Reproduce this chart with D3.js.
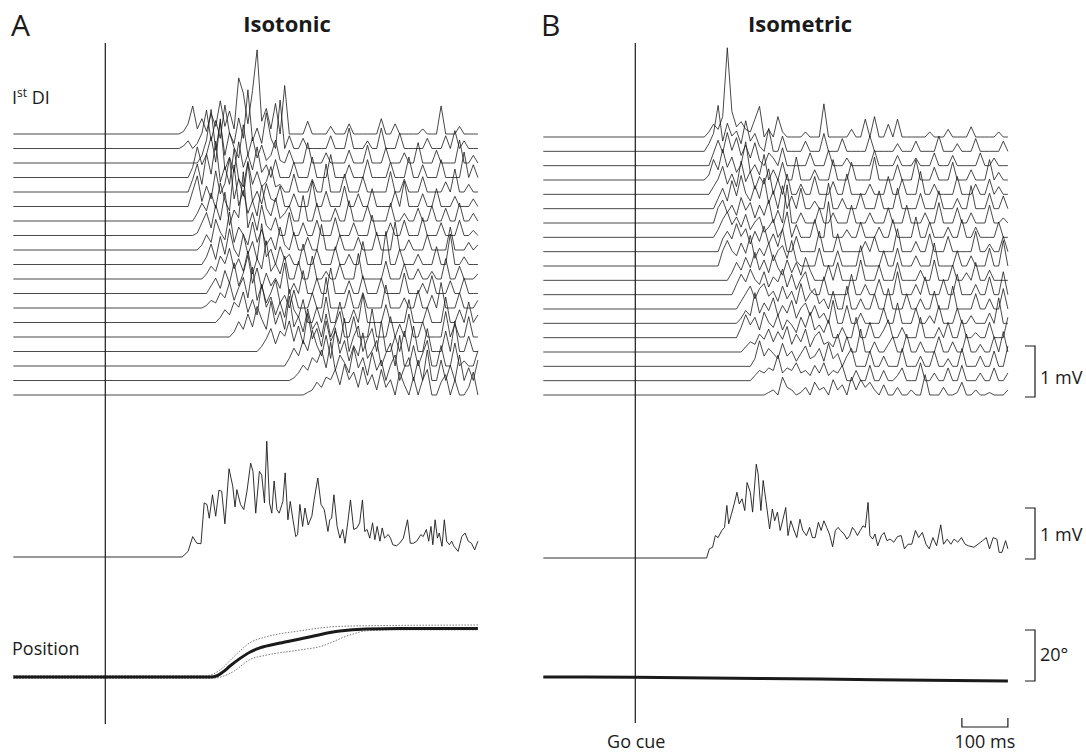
<!DOCTYPE html>
<html lang="en">
<head>
<meta charset="UTF-8">
<title>Isotonic vs Isometric EMG</title>
<script src="https://d3js.org/d3.v7.min.js"></script>
<style>
    body { margin: 0; background: #fff; }
    svg { display: block; font-family: "Open Sans", "DejaVu Sans", sans-serif; }
</style>
</head>
<body>
<svg width="1086" height="752"></svg>
<script>
// single-trial 1st DI EMG, onset (ms after go cue) and samples every 10 ms
// each char is base-36, unit 0.05 mV
const isotonicOnsets = [160,160,200,180,180,180,190,190,200,210,210,220,210,240,270,330,390,400,430];
const isotonicTraces = [
    "014b26183d392mg4hx5a" + "2c0j000050" + "0003000400" + "0000600400" + "0002000b00" + "030000",
    "013026f3b4h62c4n382e" + "40j0500400" + "0005000800" + "0300800060" + "0000400050" + "703000",
    "039l5g3c62f3a2713910" + "5000800040" + "0005000700" + "0600040080" + "0050000900" + "30",
    "04c59g6n382e493c2507" + "0006000800" + "0900050007" + "0000600080" + "0500070000" + "a050",
    "05b3f7k4a3h52c3824a2" + "3007000500" + "b000700060" + "0000800500" + "0600004090" + "0300",
    "06c283e59j3b4h261932" + "8005000a00" + "6000800500" + "7000060a00" + "0500700040" + "0030",
    "0374b5f84m6c382e5291" + "3600a00700" + "0500800060" + "0007003005" + "0060050070" + "030",
    "01593c6h4a7p392c4270" + "0900500600" + "0700050008" + "0005006000" + "7000500060" + "020",
    "0263c74f3962b3825092" + "0700500a00" + "0600050007" + "000b004000" + "6000090003" + "02",
    "0382b4e63c492g360724" + "0080060007" + "0040090000" + "d006000400" + "0700c00300" + "0",
    "025396c483b284f36290" + "0700900300" + "6000a00000" + "7000600400" + "3008005000" + "2",
    "036294c38f4a28362c04" + "0900600a00" + "0500700060" + "0008000407" + "0005006000",
    "013264a38c4g3926b250" + "7000600c00" + "0070060000" + "9000400700" + "50a0006000" + "3",
    "025386c493f6a382d529" + "0060a00800" + "50b0000700" + "0090006000" + "a0050803",
    "026394c73e5a3g482b36" + "0905a00800" + "0b00080509" + "0060000a05" + "00800",
    "0259386c4a3f592c483d" + "06a0590c00" + "6080a00900" + "080c00600",
    "0374a6e84c3f5a284d36" + "a0590c0080" + "5a00800902" + "006",
    "0136497c5f4a73d592b4" + "806a059080" + "c008060a05" + "08",
    "0125376a4c693b482a36" + "0940706a00" + "580600390"
];

const isometricOnsets = [150,150,160,150,160,170,170,170,180,180,200,210,220,220,220,230,250,250,280];
const isometricTraces = [
    "02538za46327" + "c030820000" + "2000d00000" + "3007080050" + "7000000200" + "0300004000" + "00200",
    "037i4b683c47" + "2090060000" + "4000700050" + "0000600000" + "3000400006" + "0003000500" + "00040",
    "05a5d6b48392" + "0530700000" + "5000600030" + "0000600004" + "0003000500" + "0400000500" + "3000",
    "0284c5936f36" + "2a04070090" + "0040008000" + "7000090000" + "6000800050" + "0070004000" + "80300",
    "036b483d5927" + "4a06080040" + "0700050080" + "0004000700" + "6000900400" + "0070004006" + "0300",
    "0483b5d6394c" + "2709050800" + "300a004000" + "6000700080" + "0006000700" + "0400900060" + "050",
    "069473a58273" + "9050f00400" + "0600400070" + "0040006000" + "7000400800" + "0600400070" + "020",
    "037a58493682" + "4703a05000" + "700e000300" + "6000400700" + "0080060004" + "0070040000" + "600",
    "0585b69384a3" + "7290060000" + "8000700000" + "4060000900" + "0400700060" + "0000800300" + "60",
    "06a6495c3749" + "2683a20000" + "7000600008" + "0000600700" + "0400090000" + "6004000700" + "a0",
    "037495b483a5" + "2837294000" + "6070000800" + "0600070000" + "4008000600" + "3070040000",
    "0485a649375a" + "3826920070" + "0000800400" + "6000900040" + "7000600800" + "040070090",
    "036948a57394" + "72a3682407" + "0090040060" + "0800060040" + "0700090000" + "60040080",
    "0253c485a374" + "9268372409" + "0070040000" + "6008000600" + "3070006003" + "00040a00",
    "049583a64937" + "5284a35270" + "0400800600" + "3700400080" + "0040600700" + "20060008",
    "0243759485a3" + "7492683427" + "0600900400" + "3600700400" + "0600400700" + "3006080",
    "03a475394625" + "8347293504" + "7000600400" + "0700040060" + "0300700040" + "06008",
    "024354a35473" + "4263724360" + "0400600400" + "2500070030" + "0500600030" + "05003",
    "012073201305" + "2306240726" + "3520400300" + "2008000300" + "1500200100" + "02"
];

// averaged rectified EMG (ms, mV)
const avgIsotonicT = [-200,167,173,180,190,199,208,215,221,226,233,240,247,253,260,269,277,282,286,294,301,308,316,321,327,335,340,346,351,357,362,367,373,378,384,386,391,397,402,408,414,418,423,429,434,441,449,454,462,469,476,484,488,492,497,504,510,516,521,527,533,540,547,553,559,564,569,575,581,586,591,597,602,607,615,620,625,633,640,648,657,663,670,677,686,691,698,703,708,712,717,722,726,732,737,742,748,753,758,767,775,782,789,796,803,810];
const avgIsotonicMv = [0,0,0.05,0.11,0.40,0.27,0.26,1.06,1.03,0.76,1.22,0.80,1.31,1.29,0.65,1.73,1.39,0.98,1.32,1.03,0.93,1.29,1.84,1.68,0.86,1.68,1.61,1.06,2.27,1.06,0.86,1.49,0.93,0.86,1.03,1.09,1.65,0.73,1.09,0.73,0.40,0.44,1.03,0.60,0.96,0.63,0.80,1.12,1.55,1.03,0.93,0.50,0.73,0.76,1.22,0.60,0.37,0.54,0.27,0.67,1.12,0.54,0.57,0.67,1.12,0.50,0.54,0.37,0.67,0.34,0.60,0.31,0.57,0.37,0.44,0.37,0.24,0.22,0.27,0.37,0.73,0.27,0.27,0.31,0.44,0.40,0.54,0.31,0.60,0.24,0.73,0.37,0.47,0.21,0.73,0.31,0.24,0.31,0.21,0.11,0.40,0.47,0.31,0.27,0.14,0.31];
const avgIsometricT = [-200,155,161,168,174,180,188,194,199,203,209,215,221,226,232,238,243,250,255,263,267,273,278,284,292,298,303,309,315,321,327,332,338,344,351,358,364,372,379,385,391,398,404,410,416,422,429,435,441,446,454,460,466,472,477,483,489,495,500,506,510,516,521,527,535,541,547,554,562,570,578,585,593,601,609,616,624,632,639,647,655,664,670,678,686,693,701,709,717,724,736,745,755,763,770,778,786,791,797,805,810];
const avgIsometricMv = [0,0,0.18,0.21,0.44,0.40,0.54,0.60,1.03,0.67,0.86,1.06,1.29,1.06,1.16,0.93,1.48,1.29,0.90,1.84,1.65,0.93,1.52,1.12,0.57,0.96,0.73,0.90,0.54,0.76,0.99,0.44,0.73,0.57,0.40,0.76,0.54,0.44,0.60,0.40,0.40,0.70,0.54,0.73,0.60,0.47,0.22,0.54,0.60,0.54,0.47,0.37,0.44,0.60,0.54,0.44,0.54,0.63,0.60,1.09,0.44,0.37,0.47,0.24,0.44,0.50,0.34,0.37,0.31,0.42,0.44,0.18,0.27,0.27,0.54,0.40,0.50,0.27,0.18,0.40,0.24,0.65,0.27,0.37,0.27,0.37,0.31,0.40,0.27,0.24,0.21,0.27,0.34,0.40,0.18,0.40,0.37,0.11,0.11,0.34,0.18];

// joint position (degrees): mean and +/- sd envelope
const posIsotonicT = [-200,228,243,256,271,293,315,336,380,423,466,510,568,640,810];
const posIsotonicMean = [0,0,0.5,2.0,4.3,7.3,9.8,11.4,13.3,14.9,16.6,18.0,18.8,19.0,19.0];
const posUpperT = [-200,220,249,278,315,351,423,495,568,810];
const posUpper = [0.5,0.5,2.7,7.7,13.5,15.8,18.1,19.7,20.1,20.4];
const posLowerT = [-200,233,278,315,351,423,466,532,568,640,810];
const posLower = [-0.5,-0.5,2.1,6.9,8.6,10.6,11.9,16.5,18.1,18.5,18.5];
const posIsometricT = [-200,0,400,810];
const posIsometricMean = [0,-0.1,-0.8,-1.6];

const svg = d3.select("svg");
const ink = "#1a1a1a";

const mvPx = d3.scaleLinear().domain([0, 1]).range([0, 51]);
const degPx = d3.scaleLinear().domain([0, 20]).range([0, 51]);
const pxPerMs = 0.46;

function timeScale(goX) {
    return d3.scaleLinear().domain([-200, 810]).range([goX - 200 * pxPerMs, goX + 810 * pxPerMs]);
}

function drawRaster(x, onsets, traces, top, bottom) {
    const yBase = d3.scaleLinear().domain([0, traces.length - 1]).range([top, bottom]);
    const line = d3.line().x(d => x(d[0]));
    traces.forEach((s, i) => {
        const pts = [[-200, 0]].concat(
            s.split("").map((c, j) => [onsets[i] + 10 * j, parseInt(c, 36) * 0.05])
        ).filter(p => p[0] <= 810);
        svg.append("path")
            .attr("d", line.y(d => yBase(i) - mvPx(d[1]))(pts))
            .attr("fill", "none").attr("stroke", ink).attr("stroke-width", 0.8)
            .attr("stroke-linejoin", "round");
    });
}

function drawSeries(x, ts, vs, base, amp, width, curve, dash) {
    const pts = d3.zip(ts, vs);
    const line = d3.line().x(d => x(d[0])).y(d => base - amp(d[1]));
    if (curve) line.curve(curve);
    const p = svg.append("path")
        .attr("d", line(pts))
        .attr("fill", "none").attr("stroke", dash ? "#777" : ink)
        .attr("stroke-width", width).attr("stroke-linejoin", "round");
    if (dash) p.attr("stroke-dasharray", dash);
}

// panel A
const xA = timeScale(105.3);
drawRaster(xA, isotonicOnsets, isotonicTraces, 134, 395);
drawSeries(xA, avgIsotonicT, avgIsotonicMv, 557, mvPx, 0.9);
drawSeries(xA, posUpperT, posUpper, 677, degPx, 1, d3.curveMonotoneX, "1.5,1.5");
drawSeries(xA, posLowerT, posLower, 677, degPx, 1, d3.curveMonotoneX, "1.5,1.5");
drawSeries(xA, posIsotonicT, posIsotonicMean, 677, degPx, 3, d3.curveMonotoneX);

// panel B
const xB = timeScale(635.3);
drawRaster(xB, isometricOnsets, isometricTraces, 137, 395);
drawSeries(xB, avgIsometricT, avgIsometricMv, 558, mvPx, 0.9);
drawSeries(xB, posIsometricT, posIsometricMean, 677, degPx, 3, d3.curveMonotoneX);

// go cue lines
[[xA, 724], [xB, 723]].forEach(([x, y2]) => {
    svg.append("line").attr("x1", x(0)).attr("x2", x(0)).attr("y1", 43).attr("y2", y2)
        .attr("stroke", ink).attr("stroke-width", 1.2);
});

// vertical calibration bars
const bars = [
    { bottom: 397, h: mvPx(1), label: "1 mV", ty: 384 },
    { bottom: 559, h: mvPx(1), label: "1 mV", ty: 541 },
    { bottom: 681, h: degPx(20), label: "20°", ty: 661 }
];
bars.forEach(b => {
    svg.append("path")
        .attr("d", `M1025,${b.bottom - b.h}H1035V${b.bottom}H1025`)
        .attr("fill", "none").attr("stroke", ink).attr("stroke-width", 1.2);
    svg.append("text").attr("x", 1040).attr("y", b.ty).attr("font-size", 18).attr("fill", ink).text(b.label);
});

// time calibration bar
const tb = xB(810);
svg.append("path")
    .attr("d", `M${tb - 100 * pxPerMs},718V727H${tb}V718`)
    .attr("fill", "none").attr("stroke", ink).attr("stroke-width", 1.2);
svg.append("text").attr("x", tb - 50 * pxPerMs).attr("y", 748).attr("text-anchor", "middle")
    .attr("font-size", 18).attr("fill", ink).text("100 ms");
svg.append("text").attr("x", xB(0) + 1).attr("y", 748).attr("text-anchor", "middle")
    .attr("font-size", 18).attr("fill", ink).text("Go cue");

// labels
svg.append("text").attr("x", 11).attr("y", 36).attr("font-size", 30).attr("fill", ink).text("A");
svg.append("text").attr("x", 541).attr("y", 36).attr("font-size", 30).attr("fill", ink).text("B");
svg.append("text").attr("x", 287).attr("y", 32).attr("text-anchor", "middle")
    .attr("font-size", 22).attr("font-weight", 700).attr("fill", ink).text("Isotonic");
svg.append("text").attr("x", 800).attr("y", 32).attr("text-anchor", "middle")
    .attr("font-size", 22).attr("font-weight", 700).attr("fill", ink).text("Isometric");

const muscle = svg.append("text").attr("x", 12).attr("y", 104).attr("font-size", 18).attr("fill", ink);
muscle.append("tspan").text("I");
muscle.append("tspan").attr("font-size", 12).attr("dy", -7).text("st");
muscle.append("tspan").attr("dy", 7).text(" DI");

svg.append("text").attr("x", 12).attr("y", 655).attr("font-size", 18).attr("fill", ink).text("Position");
</script>
</body>
</html>
